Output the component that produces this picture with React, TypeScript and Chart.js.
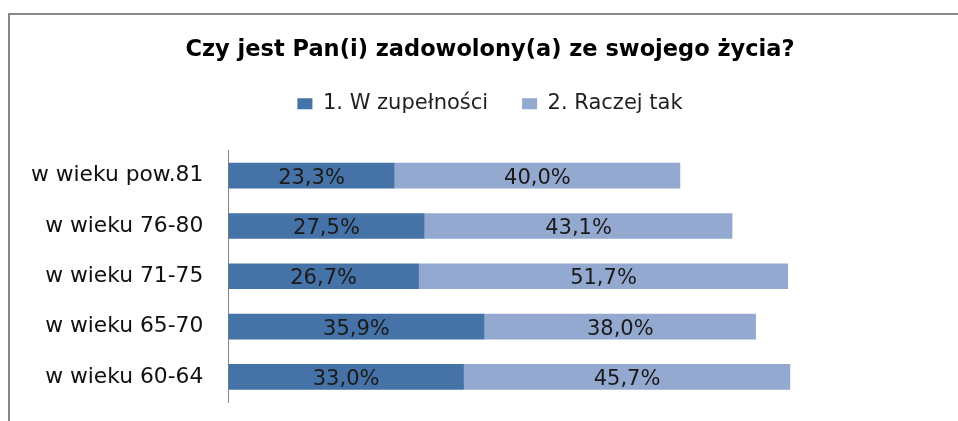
import React, { useEffect, useRef } from "react";
import { Chart, registerables } from "chart.js";

Chart.register(...registerables);

const chartTitle = "Czy jest Pan(i) zadowolony(a) ze swojego życia?";
const categories = [
  "w wieku pow.81",
  "w wieku 76-80",
  "w wieku 71-75",
  "w wieku 65-70",
  "w wieku 60-64",
];
const seriesNames = ["1. W zupełności", "2. Raczej tak"];
const fullySatisfied = [23.3, 27.5, 26.7, 35.9, 33.0];
const ratherYes = [40.0, 43.1, 51.7, 38.0, 45.7];
const seriesColors = ["#4572A7", "#93A9CF"];

const FONT = '"DejaVu Sans", "Verdana", sans-serif';

// The original chart is wider than the visible crop: the canvas extends past
// the right edge of the window; 100% sits at x = 942 of the visible area.
const CANVAS_W = 980;
const CANVAS_H = 421;
const AXIS_LEFT = 228.3;
const PX_PER_100 = 714;
const X_MAX = (100 * (CANVAS_W - AXIS_LEFT)) / PX_PER_100;

const fmt = (v: number) => v.toFixed(1).replace(".", ",") + "%";

const framePlugin = {
  id: "frame",
  beforeDraw(chart: any) {
    const ctx = chart.ctx;
    ctx.save();
    ctx.fillStyle = "#ffffff";
    ctx.fillRect(0, 0, chart.width, chart.height);
    ctx.fillStyle = "#878787";
    ctx.fillRect(8, 13, chart.width - 8, 2);
    ctx.fillRect(8, 13, 2, chart.height - 13);
    ctx.restore();
  },
};

const valueLabels = {
  id: "valueLabels",
  afterDatasetsDraw(chart: any) {
    const ctx = chart.ctx;
    ctx.save();
    ctx.font = `21px ${FONT}`;
    ctx.fillStyle = "#1a1a1a";
    ctx.textAlign = "center";
    ctx.textBaseline = "middle";
    chart.data.datasets.forEach((ds: any, di: number) => {
      const meta = chart.getDatasetMeta(di);
      meta.data.forEach((bar: any, i: number) => {
        const { x, y, base } = bar.getProps(["x", "y", "base"], true);
        ctx.fillText(fmt(ds.data[i]), (x + base) / 2, y + 2.5);
      });
    });
    ctx.restore();
  },
};

export default function App() {
  const ref = useRef<HTMLCanvasElement | null>(null);

  useEffect(() => {
    if (!ref.current) return;
    const chart = new Chart(ref.current, {
      type: "bar",
      data: {
        labels: categories,
        datasets: [
          {
            label: seriesNames[0],
            data: fullySatisfied,
            backgroundColor: seriesColors[0],
            borderWidth: 0,
            barPercentage: 0.51,
            categoryPercentage: 1,
          },
          {
            label: seriesNames[1],
            data: ratherYes,
            backgroundColor: seriesColors[1],
            borderWidth: 0,
            barPercentage: 0.51,
            categoryPercentage: 1,
          },
        ],
      },
      options: {
        indexAxis: "y",
        responsive: false,
        animation: false,
        layout: { padding: { top: 0, left: 0, right: 0, bottom: 19 } },
        plugins: {
          title: {
            display: true,
            text: chartTitle,
            color: "#000000",
            font: { family: FONT, size: 22.5, weight: "bold", lineHeight: 0.7 },
            padding: { top: 42.5, bottom: 1 },
          },
          legend: {
            display: true,
            position: "top",
            labels: {
              color: "#1f1f1f",
              font: { family: FONT, size: 21 },
              boxWidth: 15,
              boxHeight: 11,
              padding: 34,
            },
          },
          tooltip: { enabled: false },
        },
        scales: {
          x: {
            stacked: true,
            position: "top",
            min: 0,
            max: X_MAX,
            grid: { display: false, drawTicks: false },
            border: { display: false },
            ticks: { display: false },
            afterFit: (s: any) => {
              s.height = 26.3;
            },
          },
          y: {
            stacked: true,
            grid: { display: false, drawTicks: false },
            border: { display: true, color: "#868686", width: 1 },
            ticks: {
              color: "#111111",
              font: { family: FONT, size: 21.8 },
              padding: 25,
            },
            afterFit: (s: any) => {
              s.width = AXIS_LEFT;
              s.paddingTop = 0;
              s.paddingBottom = 0;
            },
          },
        },
      },
      plugins: [framePlugin, valueLabels],
    });
    return () => chart.destroy();
  }, []);

  return (
    <div
      style={{
        position: "fixed",
        left: 0,
        top: 0,
        width: 958,
        height: 421,
        overflow: "hidden",
      }}
    >
      <canvas ref={ref} width={CANVAS_W} height={CANVAS_H} />
    </div>
  );
}
